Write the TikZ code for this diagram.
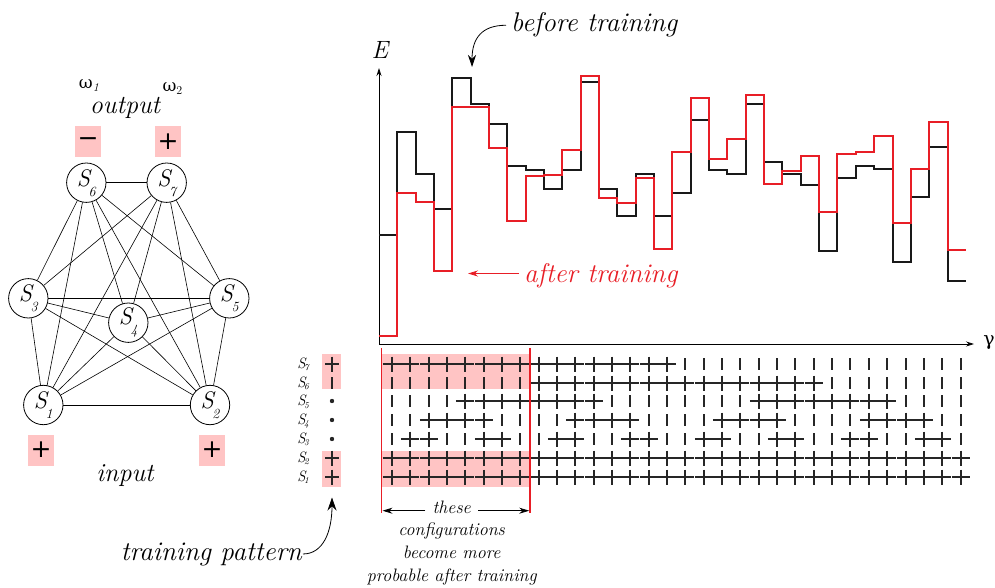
\documentclass[tikz,border=0pt]{standalone}
\usepackage{fontspec}
\newfontfamily\greekfont{DejaVu Serif}
\newfontfamily\signfont{DejaVu Sans}
\usetikzlibrary{arrows.meta}
\definecolor{myred}{RGB}{232,30,38}
\definecolor{mypink}{RGB}{255,196,196}
\newcommand\nodelab[1]{{\fontsize{24}{24}\selectfont\itshape S}\kern-1.5pt\raisebox{-10pt}{\fontsize{14}{14}\selectfont\itshape #1}}
\newcommand\rowlab[1]{{\fontsize{15}{15}\selectfont\itshape S}\kern-1.5pt\raisebox{-2.5pt}{\fontsize{9}{9}\selectfont\itshape #1}}
\tikzset{
  unit/.style={circle,draw,line width=0.8pt,minimum size=39.4pt,inner sep=0pt,fill=white},
  edge/.style={line width=0.6pt},
  signbox/.style={fill=mypink,minimum width=26pt,minimum height=31pt,inner sep=0pt,font={\signfont\fontsize{25}{25}\selectfont}},
  markline/.style={line width=2pt,black!85},
  axis/.style={line width=0.8pt,-{Stealth[length=8pt,width=5pt]}},
  lbl/.style={inner sep=1pt,font={\fontsize{27}{30}\selectfont\itshape}},
  midlbl/.style={inner sep=1pt,font={\fontsize{26}{30}\selectfont\itshape}},
  small/.style={inner sep=1pt,font={\fontsize{18}{22}\selectfont\itshape}},
  rowl/.style={inner sep=0pt,anchor=base},
  pplus/.pic={\draw[markline] (-9.17,0) -- (9.17,0) (0,-7.5) -- (0,7.5);},
  tplus/.pic={\draw[markline] (-7,0) -- (7,0) (0,-7.5) -- (0,7.5);},
  pminus/.pic={\draw[markline] (0,-6) -- (0,6);},
}
\begin{document}
\begin{tikzpicture}[x=1pt,y=-1pt]
\useasboundingbox (0,0) rectangle (995,588);

% ---------------- network ----------------
\node[unit] (s6) at (86.3,182.7) {\nodelab{6}};
\node[unit] (s7) at (166.7,182.7) {\nodelab{7}};
\node[unit] (s3) at (28.3,298.3) {\nodelab{3}};
\node[unit] (s4) at (128.3,322.7) {\nodelab{4}};
\node[unit] (s5) at (229.3,298.3) {\nodelab{5}};
\node[unit] (s1) at (43.3,405) {\nodelab{1}};
\node[unit] (s2) at (210,405) {\nodelab{2}};
\foreach \a/\b in {6/7,6/3,6/4,6/5,6/1,6/2,7/3,7/4,7/5,7/1,7/2,3/4,3/5,3/1,3/2,4/5,4/1,4/2,5/1,5/2,1/2}
  \draw[edge] (s\a) -- (s\b);

\node[signbox] (o6) at (88,141.7) {−};
\node[signbox] (o7) at (168,141.7) {+};
\node[signbox] (i1) at (41.2,450) {+};
\node[signbox] (i2) at (212,450) {+};

\node[midlbl,anchor=base] (out) at (125,113.3) {output};
\node[midlbl,anchor=base] (inp) at (125,481.7) {input};
\node[inner sep=0pt,anchor=base west] (w1) at (78.7,88.5) {{\greekfont\fontsize{17}{17}\selectfont ω}\raisebox{-3pt}{\fontsize{12}{12}\selectfont\itshape 1}};
\node[inner sep=0pt,anchor=base west] (w2) at (162.3,92) {{\greekfont\fontsize{17}{17}\selectfont ω}\raisebox{-3pt}{\fontsize{12}{12}\selectfont 2}};

% ---------------- energy graph ----------------
\coordinate (org) at (379,344);
\coordinate (ytip) at (379,68);
\coordinate (xtip) at (974,344);
\draw[axis] (org) -- (ytip);
\draw[axis] (org) -- (xtip);
\node[inner sep=0pt,anchor=base,font={\fontsize{25}{25}\selectfont\itshape}] (E) at (380,59) {E};
\node[inner sep=0pt,font={\greekfont\fontsize{19}{19}\selectfont}] (gam) at (989,343) {γ};

\draw[line width=1.8pt,black!90] plot[const plot] coordinates {
(379,235) (397,132) (416,174) (434,209) (452,78) (471,104) (489,124) (507,166) (526,170) (544,189) (562,170) (581,82) (599,189) (617,216) (636,174) (654,216) (672,193) (691,120) (709,170) (727,174) (746,104) (764,162) (782,174) (801,185) (819,251) (837,178) (856,166) (874,169) (893,262) (911,197) (929,147) (948,281) (966,281)};
\draw[line width=1.8pt,myred] plot[const plot] coordinates {
(379,336) (397,193) (416,202) (434,271) (452,107) (471,107) (489,148) (507,221) (526,176) (544,175) (562,150) (581,76) (599,198) (617,203) (636,178) (654,249) (672,152) (691,98) (709,159) (727,139) (746,95) (764,184) (782,171) (801,156) (819,212) (837,154) (856,152) (874,136) (893,223) (911,169) (929,122) (948,250) (966,250)};

\node[lbl,anchor=base west] (bt) at (510,32) {before training};
\coordinate (btarr) at (472,67);
\draw[line width=0.8pt,-{Stealth[length=12pt,width=8pt]}] ([xshift=-4pt]bt.west) .. controls +(-24,0) and (472,38) .. (btarr);

\node[lbl,anchor=base west,text=myred] (aft) at (523,282.7) {after training};
\coordinate (aftarr) at (468,273.5);
\draw[myred,line width=0.8pt,-{Stealth[length=10pt,width=6pt]}] ([xshift=-4pt]aft.west |- aftarr) -- (aftarr);

% ---------------- configuration grid ----------------
\fill[mypink] (381.7,354) rectangle (530,389);
\fill[mypink] (381.7,451) rectangle (530,487);
\fill[mypink] (322,354) rectangle (341,389);
\fill[mypink] (322,451) rectangle (341,487);

\foreach \n in {0,...,31}{
  \pgfmathsetmacro\cx{round(392+18.34*\n)}
  \pic at (\cx,458) {pplus};
  \pic at (\cx,477) {pplus};
  \pgfmathtruncatemacro\sseven{\n<16}
  \ifnum\sseven=1 \pic at (\cx,364) {pplus}; \else \pic at (\cx,364) {pminus}; \fi
  \foreach \yy/\P in {383/32,401/16,420/8,439/4}{
    \pgfmathtruncatemacro\m{mod(\n,\P)}
    \pgfmathtruncatemacro\isp{and(\m>=\P/4,\m<3*\P/4)}
    \ifnum\isp=1 \pic at (\cx,\yy) {pplus}; \else \pic at (\cx,\yy) {pminus}; \fi
  }
}

\draw[myred,line width=1.5pt] (381.7,348) -- (381.7,512.5);
\draw[myred,line width=1.5pt] (530,348) -- (530,512.5);

% training pattern column
\pic at (332,364) {tplus};
\pic at (332,383) {pminus};
\fill[black!85] (332,401) circle (2.2pt);
\fill[black!85] (332,420) circle (2.2pt);
\fill[black!85] (332,439) circle (2.2pt);
\pic at (332,458) {tplus};
\pic at (332,477) {tplus};

% row labels
\node[rowl] (r7) at (303,368) {\rowlab{7}};
\node[rowl] (r6) at (303,387) {\rowlab{6}};
\node[rowl] (r5) at (303,405.5) {\rowlab{5}};
\node[rowl] (r4) at (303,424.3) {\rowlab{4}};
\node[rowl] (r3) at (303,443) {\rowlab{3}};
\node[rowl] (r2) at (303,462) {\rowlab{2}};
\node[rowl] (r1) at (303,481) {\rowlab{1}};

% training pattern label
\node[lbl,anchor=base east] (tp) at (303,560) {training pattern};
\coordinate (tparr) at (332,497.5);
\draw[line width=0.8pt,-{Stealth[length=13pt,width=9pt]}] (tp.east) .. controls +(20,0) and (332,532) .. (tparr);

% these configurations ...
\coordinate (L) at (382.5,510.7);
\coordinate (R) at (529.2,510.7);
\node[small,anchor=base] (these) at (451.7,513.3) {these};
\draw[line width=0.8pt,-{Stealth[length=10pt,width=6pt]}] ([xshift=-6pt]these.west |- L) -- (L);
\draw[line width=0.8pt,-{Stealth[length=10pt,width=6pt]}] ([xshift=6pt]these.east |- R) -- (R);
\node[small,anchor=base] (c1) at (451.7,535) {configurations};
\node[small,anchor=base] (c2) at (451.7,558.3) {become more};
\node[small,anchor=base] (c3) at (451.7,581.7) {probable after training};
\end{tikzpicture}
\end{document}
